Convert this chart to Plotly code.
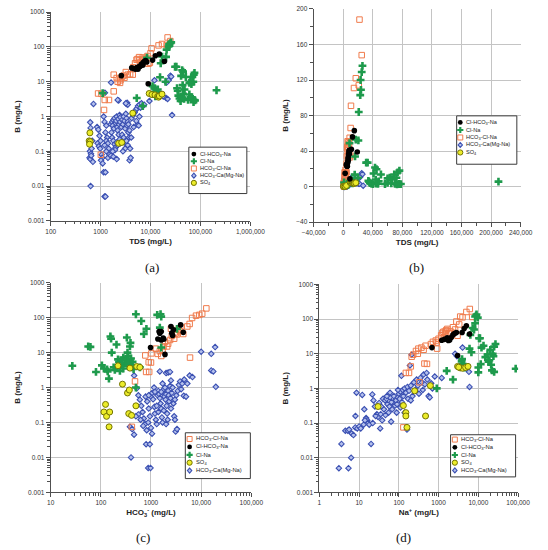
import plotly.graph_objects as go

W, H = 548, 550
FONT = "Liberation Sans, Arial, sans-serif"
SERIF = "Liberation Serif, Times New Roman, serif"

# ---------------- data: panels (a) and (b)  TDS vs B ----------------
ab_black_tds = [2600, 4200, 4600, 5000, 5300, 5500, 5600, 5900, 6200, 6500, 6800, 7000, 7200, 7600, 8000, 8400, 9000, 11000, 12500, 15000, 19000]
ab_black_b = [15, 25, 24, 23, 25, 26, 23, 27, 28, 31, 33, 30, 36, 39, 41, 37, 8.8, 42, 56, 63, 39]

ab_green_tds = [1100, 5300, 7000, 8500, 11000, 12000, 12500, 13000, 14000, 12500, 15500, 16000, 17000, 20500, 20000, 21000, 23000, 24000, 23500, 25000,
                26000, 31000, 33000, 43000, 45000, 51000, 41000, 34000, 35000, 36000, 38000, 40000, 44000, 45000, 47000, 48000, 44000, 60000, 63000, 66000,
                69000, 73600, 76000, 72000, 56500, 60000, 65000, 70000, 72700, 75700, 78000, 210000]
ab_green_b = [4.7, 3.4, 2.0, 49, 7.5, 6.5, 5.2, 5.0, 6.0, 3.8, 13.5, 34, 53, 52, 10, 84, 103, 109, 120, 129,
              136, 27, 27, 21.5, 19.6, 13.7, 14.8, 6.5, 5.5, 4.0, 3.3, 2.8, 3.5, 4.5, 3.2, 6.0, 8.0, 9.3, 10, 8.5,
              13.7, 16, 18, 10, 3.0, 4.3, 3.6, 3.2, 2.6, 3.0, 2.9, 5.7]

ab_orange_tds = [890, 1040, 1210, 1470, 1170, 1010, 1830, 1830, 2100, 2200, 2450, 2450, 2500, 2700, 2900, 3000, 3200, 3500, 3900, 4400,
                 4500, 4900, 5250, 5500, 5900, 6000, 6300, 6800, 7000, 7900, 8700, 9100, 9700, 10000, 10500, 14500, 17000, 21000, 22000, 25000]
ab_orange_b = [4.6, 4.5, 3.0, 3.0, 1.55, 0.08, 5.3, 16, 12.8, 10, 12, 9.3, 11, 14, 15, 13, 19, 16, 16.5, 16,
               26, 34, 43, 45, 51, 41, 35, 44, 50, 48, 55, 33, 35, 66, 91, 111, 122, 114, 188, 148]

ab_yellow_tds = [610, 590, 620, 600, 2300, 2650, 4400, 9400, 10700, 12300, 13900, 14500, 15000, 17000]
ab_yellow_b = [0.34, 0.2, 0.19, 0.16, 0.17, 0.18, 1.25, 4.6, 4.3, 4.2, 3.8, 3.6, 3.9, 4.4]

ab_blue_tds = [620, 630, 610, 640, 600, 620, 650, 630, 660, 700, 720, 680,
               850, 900, 950, 870, 920, 1000, 980, 1050, 1080, 1020, 1100, 1150, 1250, 1200, 1250, 1220,
               1150, 1200, 1300, 1250, 1350, 1300, 1400, 1200, 1450, 1300, 1500, 1400, 1600, 1620,
               1600, 1700, 1750, 1800, 1850, 1900, 2000, 2050, 2100, 2150, 2200, 2250, 2300, 2350, 2400, 2450, 1650, 1700, 1800, 1900,
               2000, 2100, 2200, 2300, 1950, 1750, 2500, 2400, 2500, 2200, 1800, 2100,
               2600, 2700, 2800, 2900, 3000, 3100, 3200, 3300, 3400, 3500, 3600, 2700, 2900, 3000, 3100, 3300, 3500, 3700, 3900, 3800,
               4000, 3300, 3400, 3500, 3200, 2800, 3600, 3800, 4100,
               4200, 4500, 4800, 5000, 5300, 5600, 6000, 6300, 6600, 7000, 7500, 5500, 5200, 4600, 6000, 5800,
               9500, 12000, 13000, 14500, 16000, 20500, 22000, 21000, 23000, 25000, 26000, 27000, 18000]
ab_blue_b = [0.68, 0.47, 0.1, 0.085, 0.065, 0.06, 0.075, 0.01, 0.12, 0.05, 2.3, 0.2,
             0.5, 0.42, 0.28, 0.17, 0.14, 0.2, 0.12, 0.08, 0.065, 0.055, 0.045, 0.025, 0.025, 0.005, 0.005, 4.8,
             1.0, 0.7, 0.55, 0.35, 0.25, 0.2, 0.17, 0.15, 0.12, 0.1, 0.08, 0.065, 0.075, 9.5,
             0.6, 0.7, 0.55, 0.8, 0.45, 0.9, 0.65, 0.75, 1.0, 0.5, 0.4, 0.85, 0.3, 0.6, 1.1, 0.7, 0.35, 0.25, 0.2, 0.16,
             0.13, 0.18, 0.15, 2.9, 0.11, 0.1, 0.95, 0.22, 0.17, 3.0, 0.07, 0.06,
             0.5, 0.8, 0.6, 1.0, 0.75, 0.45, 1.2, 0.9, 0.55, 0.7, 0.35, 0.3, 0.25, 0.18, 0.12, 0.2, 0.15, 0.25, 0.12, 0.055,
             0.065, 2.3, 2.5, 2.2, 2.4, 0.1, 0.6, 0.4, 0.25,
             0.9, 1.1, 1.3, 1.5, 1.7, 2.0, 2.2, 1.8, 2.4, 2.0, 2.2, 0.6, 0.75, 0.5, 1.0, 0.55,
             2.8, 11, 6, 4.8, 4.5, 3.4, 3.2, 9.5, 11, 15, 14, 1.1, 3.8]

# ---------------- data: panel (c)  HCO3 vs B ----------------
c_green_hco3 = [27, 56, 62, 80, 105, 115, 133, 137, 145, 155, 160, 165, 205, 220, 180, 190, 230, 250, 260, 280,
                300, 320, 330, 340, 350, 360, 370, 380, 390, 400, 410, 420, 430, 450, 500, 500, 640, 720, 810, 1330,
                1550, 1600, 1500, 1600, 3300, 350, 280, 240, 600]
c_green_b = [4.2, 15, 14.6, 2.8, 4.3, 3.5, 3.3, 2.9, 1.8, 29, 25, 10, 17, 6.4, 3.8, 3.2, 5.5, 4.5, 6.0, 7.2,
             5.0, 6.5, 27, 10, 8, 4.2, 5.5, 15, 19, 6.8, 4.5, 3.8, 5.5, 3.4, 1.0, 125, 80, 34, 48, 120,
             125, 107, 52, 14, 48, 4.8, 3.5, 3.0, 3.8]

c_black_hco3 = [980, 1370, 1500, 1600, 1600, 1750, 1900, 2500, 2600, 2700, 3900, 4400, 1450, 1800, 2800]
c_black_b = [14, 24.5, 36, 40, 23, 26, 8.9, 56, 36, 31, 62, 38, 40, 24, 45]

c_orange_hco3 = [770, 900, 1000, 800, 920, 480, 1020, 1360, 1500, 1600, 1780, 2100, 2200, 2400, 2600, 3000, 3300, 3500, 4000, 4400,
                 5300, 5900, 6600, 7900, 9200, 10500, 12700, 6000, 415, 1250, 1700, 2900, 3800, 2500, 1900, 3100]
c_orange_b = [8.3, 5.3, 5.2, 2.8, 2.8, 1.5, 9.5, 9.2, 11, 8, 15, 15, 18, 23, 30, 38, 33, 45, 52, 34,
              56, 66, 98, 114, 120, 130, 184, 7.2, 0.075, 13, 12, 25, 41, 48, 20, 35]

c_yellow_hco3 = [124, 115, 130, 150, 146, 220, 270, 340, 370, 360, 410, 500, 380, 520, 600]
c_yellow_b = [0.33, 0.2, 0.15, 0.2, 0.075, 4.2, 1.25, 0.7, 0.85, 0.18, 0.16, 0.3, 3.6, 4.0, 3.8]

c_blue_hco3 = [380, 420, 460, 400, 880, 980, 800, 950,
               460, 520, 560, 600, 640, 680, 720, 760, 820, 560, 620, 700, 500, 780, 840, 900, 950, 880, 1000, 1050,
               1000, 1050, 1100, 1170, 1200, 1250, 1300, 1350, 1400, 1450, 1500, 1500, 1550, 1600, 1650, 1700,
               1750, 1800, 1850, 1900, 1950, 2000, 2000, 2050, 2100, 2150, 2200, 2200, 2250, 2300, 2400, 2400, 2450, 2500,
               2600, 2700, 2800, 2900, 3000, 3100, 3300, 3200, 3400, 3600, 3800, 4000, 4200, 4500, 4600, 5000, 5300, 5900, 6700,
               10000, 15900, 19000, 15900, 17500, 19600,
               1800, 1600, 1300, 1150, 2500, 3000, 1400, 1700, 2000, 900, 1200]
c_blue_b = [0.076, 0.065, 0.045, 0.01, 0.005, 0.005, 0.024, 0.024,
            2.2, 0.95, 0.6, 0.45, 0.3, 0.2, 0.13, 0.09, 0.06, 0.17, 0.12, 0.08, 0.15, 0.55, 0.4, 0.25, 0.15, 0.1, 0.07, 0.048,
            0.55, 0.7, 0.46, 0.28, 0.18, 0.12, 0.09, 0.6, 0.8, 0.65, 2.9, 0.5, 0.35, 0.25, 0.14, 0.1,
            0.7, 0.9, 0.55, 1.0, 0.45, 2.6, 0.65, 0.3, 0.18, 0.12, 2.7, 0.8, 0.6, 0.4, 2.8, 1.1, 0.5, 0.25,
            0.7, 1.0, 0.35, 0.15, 0.12, 0.055, 0.065, 0.6, 0.8, 1.2, 1.5, 0.9, 1.3, 0.58, 1.7, 0.55, 1.3, 2.2, 2.0,
            10.6, 9.2, 14.4, 3.1, 2.9, 1.05,
            0.22, 0.75, 0.3, 1.0, 1.6, 0.45, 0.2, 1.3, 0.09, 0.6, 0.75]

# ---------------- data: panel (d)  Na vs B ----------------
d_orange_na = [130, 150, 180, 200, 210, 230, 270, 310, 300, 370, 420, 470, 440, 510, 330, 640, 720, 850, 920, 1000,
               1160, 1330, 1450, 1560, 1660, 1800, 2300, 2800, 3000, 3500, 4000, 5000, 6100, 7000, 1250, 1500, 2000, 2600, 3300, 900]
d_orange_b = [0.075, 2.8, 2.8, 4.3, 8.2, 9.4, 12, 14, 10, 15, 13, 17, 5.2, 5.1, 1.5, 19, 22, 24, 14, 27,
              34, 43, 38, 48, 52, 39, 58, 85, 33, 118, 112, 160, 195, 115, 40, 45, 44, 50, 70, 21]

d_black_na = [680, 1200, 1650, 1760, 1900, 2100, 2300, 2800, 3900, 4400, 5000, 6000, 3000, 1400, 2500]
d_black_b = [15, 24.5, 29, 24, 25, 30, 35, 41, 41, 53, 64, 37, 8.9, 26, 38]

d_green_na = [900, 1600, 2300, 3900, 3800, 4100, 4300, 6000, 6700, 6300, 7200, 8300, 8300, 9000, 9700, 8800, 10400, 11000, 11500, 10000,
              10000, 13500, 15000, 17000, 18000, 21000, 23000, 24000, 25000, 27000, 22000, 25000, 87000, 12000, 19000, 4500, 7800, 20000]
d_green_b = [1.0, 3.2, 1.8, 7, 6, 5, 4.6, 14, 11, 35, 55, 76, 118, 136, 110, 125, 28, 28, 5, 4,
             2.9, 17, 8, 9.5, 5.9, 4.8, 10, 8.5, 16, 19, 3.3, 3.0, 3.7, 15, 6.5, 4.0, 50, 13]

d_yellow_na = [30, 130, 150, 150, 160, 250, 470, 620, 3000, 3500, 4000, 4800, 5500, 3200]
d_yellow_b = [0.3, 0.32, 0.2, 0.16, 0.075, 0.85, 0.16, 1.2, 4.3, 3.9, 3.8, 4.0, 4.3, 4.1]

d_blue_na = [3.1, 5.4, 3.6, 6.3, 4.5, 5.2, 5.6, 6.5, 7.2, 8,
             8.6, 8.1, 9, 10, 12, 13.5, 15, 16, 17, 18,
             20, 21.5, 25, 28, 30, 32, 35, 38, 40, 42,
             45, 49, 52, 55, 58, 60, 64, 68, 72, 75,
             80, 85, 90, 95, 100, 105, 110, 116, 120, 125,
             130, 140, 150, 160, 165, 170, 180, 190, 200, 210,
             220, 240, 260, 280, 300, 320, 350, 380, 400, 420,
             450, 500, 520, 560, 600, 650, 700, 800, 1200, 2600,
             2900, 4000, 5800, 6000, 14, 22, 26, 34, 36, 46,
             65, 88, 110, 140, 200, 95, 60, 50, 23, 11, 13]
d_blue_b = [0.005, 0.005, 0.025, 0.01, 0.06, 0.06, 0.065, 0.05, 0.045, 0.075,
            0.75, 0.16, 0.07, 0.08, 0.65, 0.25, 0.14, 0.12, 0.1, 0.09,
            0.025, 0.67, 0.3, 0.18, 0.15, 0.38, 0.18, 0.12, 0.5, 0.25,
            0.45, 0.5, 0.35, 0.2, 0.3, 0.55, 0.11, 0.25, 0.4, 0.6,
            0.32, 0.45, 0.35, 0.55, 0.7, 0.5, 0.8, 2.3, 0.4, 0.9,
            0.6, 1.0, 0.75, 0.065, 1.1, 0.5, 0.85, 4.6, 1.2, 9.4,
            0.6, 1.5, 0.9, 1.8, 1.2, 0.7, 2.0, 1.5, 0.9, 2.5,
            1.3, 2.8, 1.8, 0.6, 0.55, 1.4, 1.0, 2.2, 2.0, 10,
            8.5, 15, 3.0, 1.1, 0.12, 0.1, 0.16, 0.07, 0.3, 0.17,
            0.4, 0.2, 0.28, 0.2, 0.45, 0.9, 0.75, 0.6, 0.45, 0.07, 0.09]

# ---------------- tick labels ----------------
b_log_ticks = [0.001, 0.01, 0.1, 1, 10, 100, 1000]
b_log_labels = ["0.001", "0.01", "0.1", "1", "10", "100", "1000"]
tds_log_ticks = [100, 1000, 10000, 100000, 1000000]
tds_log_labels = ["100", "1000", "10,000", "100,000", "1,000,000"]
hco3_ticks = [10, 100, 1000, 10000, 100000]
hco3_labels = ["10", "100", "1000", "10,000", "100,000"]
na_ticks = [1, 10, 100, 1000, 10000, 100000]
na_labels = ["1", "10", "100", "1000", "10,000", "100,000"]

# ---------------- group names ----------------
N_BLACK = "Cl-HCO<sub>3</sub>-Na"
N_GREEN = "Cl-Na"
N_ORANGE = "HCO<sub>3</sub>-Cl-Na"
N_BLUE = "HCO<sub>3</sub>-Ca(Mg-Na)"
N_YELLOW = "SO<sub>4</sub>"

# ---------------- styles ----------------
C_BLACK = "#000000"
C_GREEN = "#1e9a4c"
C_ORANGE = "#f07b4c"
C_BLUE_LINE = "#3b50b2"
C_BLUE_FILL = "#b4c0ec"
C_YEL_FILL = "#ecec2a"
C_YEL_LINE = "#747400"

STY = {
    "blue": dict(symbol="diamond", size=4.2, color=C_BLUE_FILL, line=dict(color=C_BLUE_LINE, width=1.1)),
    "orange": dict(symbol="square-open", size=5.5, color=C_ORANGE, line=dict(color=C_ORANGE, width=1)),
    "green": dict(symbol="cross", size=6.5, color=C_GREEN, line=dict(width=0)),
    "yellow": dict(symbol="circle", size=6, color=C_YEL_FILL, line=dict(color=C_YEL_LINE, width=1)),
    "black": dict(symbol="circle", size=5.6, color=C_BLACK, line=dict(width=0)),
}

fig = go.Figure()


def add(x, y, key, name, xa, ya):
    fig.add_trace(go.Scatter(x=x, y=y, mode="markers", name=name, marker=STY[key],
                             xaxis=xa, yaxis=ya, showlegend=False, cliponaxis=True))


panel_series = [
    ("x", "y", [(ab_blue_tds, ab_blue_b, "blue", N_BLUE), (ab_orange_tds, ab_orange_b, "orange", N_ORANGE),
                (ab_green_tds, ab_green_b, "green", N_GREEN), (ab_yellow_tds, ab_yellow_b, "yellow", N_YELLOW),
                (ab_black_tds, ab_black_b, "black", N_BLACK)]),
    ("x2", "y2", [(ab_blue_tds, ab_blue_b, "blue", N_BLUE), (ab_orange_tds, ab_orange_b, "orange", N_ORANGE),
                  (ab_green_tds, ab_green_b, "green", N_GREEN), (ab_yellow_tds, ab_yellow_b, "yellow", N_YELLOW),
                  (ab_black_tds, ab_black_b, "black", N_BLACK)]),
    ("x3", "y3", [(c_blue_hco3, c_blue_b, "blue", N_BLUE), (c_orange_hco3, c_orange_b, "orange", N_ORANGE),
                  (c_green_hco3, c_green_b, "green", N_GREEN), (c_yellow_hco3, c_yellow_b, "yellow", N_YELLOW),
                  (c_black_hco3, c_black_b, "black", N_BLACK)]),
    ("x4", "y4", [(d_blue_na, d_blue_b, "blue", N_BLUE), (d_orange_na, d_orange_b, "orange", N_ORANGE),
                  (d_green_na, d_green_b, "green", N_GREEN), (d_yellow_na, d_yellow_b, "yellow", N_YELLOW),
                  (d_black_na, d_black_b, "black", N_BLACK)]),
]
for xa, ya, series in panel_series:
    for x, y, key, name in series:
        add(x, y, key, name, xa, ya)


def fx(p):
    return p / W


def fy(p):
    return 1 - p / H


LINE = "#505050"
base = dict(showline=True, linecolor=LINE, linewidth=1, ticks="outside", ticklen=4, tickwidth=1,
            tickcolor=LINE, showgrid=True, gridcolor="#c4c4c4", gridwidth=1, zeroline=False,
            tickfont=dict(size=6.5, color="#333333", family=FONT))
minor_log = dict(ticks="outside", ticklen=2.5, tickcolor=LINE, dtick="D1", showgrid=False)


def title(text, standoff):
    return dict(text=text, standoff=standoff, font=dict(size=8, color="#222222", family=FONT, weight="bold"))


def log_axis(rng, tv, tt, dom, anchor, ttl, so):
    return dict(base, type="log", range=rng, tickmode="array", tickvals=tv, ticktext=tt,
                domain=dom, anchor=anchor, minor=minor_log, title=title(ttl, so))


# panel pixel boxes: (left, right, top, bottom)
PA = (40.7, 250.7, 8.3, 219.7)
PB = (317.3, 535.0, 5.0, 221.0)
PC = (40.7, 251.7, 282.3, 494.7)
PD = (323.3, 532.3, 284.0, 494.7)


def xdom(p):
    return [fx(p[0]), fx(p[1])]


def ydom(p):
    return [fy(p[3]), fy(p[2])]


fig.update_layout(
    xaxis=log_axis([2, 6], tds_log_ticks, tds_log_labels, xdom(PA), "y", "TDS (mg/L)", 4),
    yaxis=log_axis([-3, 3], b_log_ticks, b_log_labels, ydom(PA), "x", "B (mg/L)", 6),
    xaxis2=dict(base, range=[-40000, 240000], dtick=40000, tick0=0, tickformat=",", domain=xdom(PB), anchor="y2",
                minor=dict(ticks="outside", ticklen=2.5, tickcolor=LINE, dtick=20000, showgrid=False),
                title=title("TDS (mg/L)", 4)),
    yaxis2=dict(base, range=[-40, 200], dtick=40, tick0=0, domain=ydom(PB), anchor="x2",
                minor=dict(ticks="outside", ticklen=2.5, tickcolor=LINE, dtick=20, showgrid=False),
                title=title("B (mg/L)", 6)),
    xaxis3=log_axis([1, 5], hco3_ticks, hco3_labels, xdom(PC), "y3", "HCO<sub>3</sub><sup>-</sup> (mg/L)", 4),
    yaxis3=log_axis([-3, 3], b_log_ticks, b_log_labels, ydom(PC), "x3", "B (mg/L)", 6),
    xaxis4=log_axis([0, 5], na_ticks, na_labels, xdom(PD), "y4", "Na<sup>+</sup> (mg/L)", 4),
    yaxis4=log_axis([-3, 3], b_log_ticks, b_log_labels, ydom(PD), "x4", "B (mg/L)", 6),
)

# ---------------- custom compact legends ----------------
shapes = []
annotations = []


def marker_shape(key, xp, yp):
    common = dict(xref="paper", yref="paper", xsizemode="pixel", ysizemode="pixel",
                  xanchor=fx(xp), yanchor=fy(yp), layer="above")
    if key == "black":
        return dict(common, type="circle", x0=-2.4, x1=2.4, y0=-2.4, y1=2.4, fillcolor=C_BLACK, line=dict(width=0))
    if key == "yellow":
        return dict(common, type="circle", x0=-2.6, x1=2.6, y0=-2.6, y1=2.6, fillcolor=C_YEL_FILL,
                    line=dict(color=C_YEL_LINE, width=1))
    if key == "orange":
        return dict(common, type="rect", x0=-2.5, x1=2.5, y0=-2.5, y1=2.5, fillcolor="white",
                    line=dict(color=C_ORANGE, width=1))
    if key == "green":
        return dict(common, type="path", path="M-1.1,-3.1 L1.1,-3.1 L1.1,-1.1 L3.1,-1.1 L3.1,1.1 L1.1,1.1 L1.1,3.1 L-1.1,3.1 L-1.1,1.1 L-3.1,1.1 L-3.1,-1.1 L-1.1,-1.1 Z",
                    fillcolor=C_GREEN, line=dict(width=0))
    return dict(common, type="path", path="M0,-2.5 L2.2,0 L0,2.5 L-2.2,0 Z", fillcolor=C_BLUE_FILL,
                line=dict(color=C_BLUE_LINE, width=1.1))


legend_ab = [("black", N_BLACK), ("green", N_GREEN), ("orange", N_ORANGE), ("blue", N_BLUE), ("yellow", N_YELLOW)]
legend_cd = [("orange", N_ORANGE), ("black", N_BLACK), ("green", N_GREEN), ("yellow", N_YELLOW), ("blue", N_BLUE)]

# (box left, right, top, bottom, first row y, row step, marker x, text x, font size, entries)
legends = [
    (186.0, 247.0, 145.0, 192.0, 152.0, 7.3, 191.3, 195.3, 5.6, legend_ab),
    (467.7, 531.0, 113.3, 162.3, 120.0, 7.6, 471.5, 475.5, 5.6, legend_ab),
    (182.3, 250.7, 434.3, 480.7, 440.6, 8.0, 186.8, 191.5, 5.8, legend_cd),
    (461.3, 529.7, 436.3, 479.0, 441.2, 7.8, 465.8, 470.3, 5.8, legend_cd),
]
for (l, r, t, b, y0, dy, mx, tx, fs, entries) in legends:
    shapes.append(dict(type="rect", xref="paper", yref="paper", x0=fx(l), x1=fx(r), y0=fy(b), y1=fy(t),
                       fillcolor="white", line=dict(color="#3a3a3a", width=1), layer="above"))
    for i, (key, name) in enumerate(entries):
        yy = y0 + i * dy
        shapes.append(marker_shape(key, mx, yy))
        annotations.append(dict(text=name, xref="paper", yref="paper", x=fx(tx), y=fy(yy), xanchor="left",
                                yanchor="middle", showarrow=False,
                                font=dict(size=fs, color="#1a1a1a", family=FONT)))

# captions
for txt, cx, cy in [("(a)", 147.0, 267.0), ("(b)", 425.7, 267.0), ("(c)", 138.3, 540.0), ("(d)", 411.5, 540.5)]:
    annotations.append(dict(text=txt, xref="paper", yref="paper", x=fx(cx), y=fy(cy), xanchor="center",
                            yanchor="middle", showarrow=False, font=dict(size=13, color="#111111", family=SERIF)))

fig.update_layout(
    width=W, height=H, autosize=False,
    margin=dict(l=0, r=0, t=0, b=0),
    paper_bgcolor="white", plot_bgcolor="white",
    showlegend=False,
    shapes=shapes, annotations=annotations,
    font=dict(family=FONT),
)

# remove the default page margin so the 548x550 figure sits at the window origin
fig.write_html("out.html", config={"displayModeBar": False},
               post_script="document.body.style.margin='0';document.body.style.overflow='hidden';")
